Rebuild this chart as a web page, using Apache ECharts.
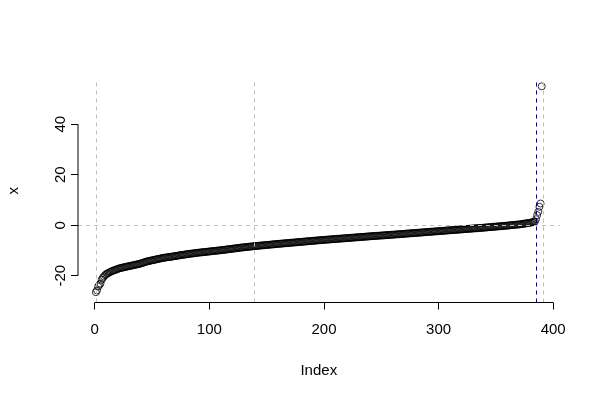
<!DOCTYPE html>
<html>
<head>
<meta charset="utf-8">
<script src="https://cdn.jsdelivr.net/npm/echarts@6/dist/echarts.min.js"></script>
<style>html,body{margin:0;padding:0;background:#fff}#c{width:600px;height:400px}</style>
</head>
<body>
<div id="c"></div>
<script>
// Sorted values x[1..390]
const values = [
-26.5,-25.8,-24.3,-23.6,-23.1,-21.6,-20.9,-20.3,-19.8,-19.4,
-19.1,-18.9,-18.6,-18.4,-18.2,-18.0,-17.8,-17.7,-17.5,-17.3,
-17.2,-17.0,-16.9,-16.8,-16.7,-16.6,-16.5,-16.4,-16.3,-16.2,
-16.1,-16.0,-15.9,-15.8,-15.7,-15.6,-15.5,-15.4,-15.3,-15.2,
-15.0,-14.9,-14.7,-14.6,-14.4,-14.3,-14.2,-14.1,-14.0,-13.9,
-13.8,-13.7,-13.6,-13.5,-13.4,-13.3,-13.2,-13.1,-13.0,-12.9,
-12.85,-12.8,-12.7,-12.65,-12.6,-12.5,-12.45,-12.4,-12.3,-12.25,
-12.2,-12.1,-12.0,-11.9,-11.85,-11.8,-11.7,-11.65,-11.6,-11.5,
-11.45,-11.4,-11.3,-11.25,-11.2,-11.15,-11.1,-11.0,-10.95,-10.9,
-10.85,-10.8,-10.75,-10.7,-10.65,-10.6,-10.55,-10.5,-10.45,-10.4,
-10.35,-10.3,-10.25,-10.2,-10.15,-10.1,-10.05,-10.0,-9.95,-9.9,
-9.85,-9.8,-9.75,-9.7,-9.6,-9.55,-9.5,-9.45,-9.4,-9.3,
-9.25,-9.2,-9.15,-9.1,-9.0,-8.95,-8.9,-8.85,-8.8,-8.75,
-8.7,-8.65,-8.6,-8.55,-8.5,-8.45,-8.4,-8.35,-8.3,-8.25,
-8.21,-8.18,-8.12,-8.09,-8.03,-8.0,-7.95,-7.92,-7.86,-7.83,
-7.78,-7.75,-7.7,-7.65,-7.62,-7.57,-7.52,-7.49,-7.44,-7.4,
-7.37,-7.31,-7.28,-7.24,-7.19,-7.16,-7.12,-7.07,-7.04,-7.0,
-6.95,-6.92,-6.88,-6.83,-6.8,-6.76,-6.71,-6.68,-6.63,-6.6,
-6.56,-6.51,-6.48,-6.44,-6.39,-6.36,-6.31,-6.28,-6.24,-6.2,
-6.15,-6.12,-6.08,-6.03,-6.0,-5.96,-5.91,-5.88,-5.83,-5.8,
-5.77,-5.73,-5.7,-5.66,-5.63,-5.59,-5.56,-5.52,-5.49,-5.45,
-5.42,-5.38,-5.35,-5.31,-5.28,-5.24,-5.21,-5.17,-5.14,-5.1,
-5.07,-5.03,-5.0,-4.96,-4.93,-4.89,-4.86,-4.82,-4.79,-4.75,
-4.72,-4.68,-4.65,-4.61,-4.58,-4.54,-4.51,-4.47,-4.44,-4.4,
-4.37,-4.34,-4.3,-4.27,-4.24,-4.21,-4.17,-4.14,-4.11,-4.08,
-4.04,-4.01,-3.98,-3.95,-3.91,-3.88,-3.85,-3.82,-3.78,-3.75,
-3.72,-3.68,-3.65,-3.61,-3.58,-3.54,-3.51,-3.47,-3.44,-3.4,
-3.37,-3.33,-3.3,-3.26,-3.23,-3.19,-3.16,-3.12,-3.09,-3.05,
-3.02,-2.98,-2.95,-2.91,-2.88,-2.84,-2.81,-2.77,-2.74,-2.7,
-2.67,-2.63,-2.6,-2.56,-2.53,-2.49,-2.46,-2.42,-2.39,-2.35,
-2.32,-2.28,-2.25,-2.21,-2.18,-2.14,-2.11,-2.07,-2.04,-2.0,
-1.97,-1.93,-1.9,-1.86,-1.83,-1.79,-1.76,-1.72,-1.69,-1.65,
-1.62,-1.58,-1.55,-1.51,-1.48,-1.44,-1.41,-1.37,-1.34,-1.3,
-1.27,-1.23,-1.2,-1.16,-1.13,-1.09,-1.06,-1.02,-0.99,-0.95,
-0.91,-0.87,-0.83,-0.79,-0.75,-0.71,-0.67,-0.63,-0.59,-0.55,
-0.51,-0.47,-0.43,-0.39,-0.35,-0.31,-0.27,-0.23,-0.19,-0.15,
-0.1,-0.05,0.0,0.04,0.09,0.13,0.18,0.22,0.26,0.3,
0.36,0.43,0.5,0.57,0.64,0.71,0.78,0.85,0.92,1.0,
1.1,1.2,1.3,1.45,2.4,4.0,5.3,7.3,8.6,55.0
];
const xTicks = [0, 100, 200, 300, 400];
const yTicks = [-20, 0, 20, 40];
const grayVLines = [1, 139, 391];
const navyVLines = [385];
const hLines = [0];

const X_MIN = -14.6, X_MAX = 405.6;
const Y_MIN = -30.6, Y_MAX = 57.9;

const points = values.map((v, i) => [i + 1, v]);
const font = "'Liberation Sans', Arial, sans-serif";
const dashed = (c) => ({ type: [4, 4], color: c, width: 1 });
const axisLineSeries = (data) => ({
  type: 'line', data, clip: false, silent: true, symbol: 'none',
  lineStyle: { color: '#000', width: 1 }, z: 10
});

const chart = echarts.init(document.getElementById('c'), null, { renderer: 'canvas' });
chart.setOption({
  animation: false,
  backgroundColor: '#fff',
  grid: { left: 78, right: 40.4, top: 79, bottom: 97.5, containLabel: false, outerBoundsMode: 'none' },
  xAxis: {
    type: 'value', min: X_MIN, max: X_MAX,
    name: 'Index', nameLocation: 'middle', nameGap: 61,
    nameTextStyle: { fontFamily: font, fontSize: 15, color: '#000' },
    axisLine: { show: false, onZero: false },
    splitLine: { show: false },
    axisTick: { show: true, inside: false, length: 7, customValues: xTicks, lineStyle: { color: '#000' } },
    axisLabel: { customValues: xTicks, margin: 20, fontFamily: font, fontSize: 15, color: '#000' }
  },
  yAxis: {
    type: 'value', min: Y_MIN, max: Y_MAX,
    name: 'x', nameLocation: 'middle', nameGap: 57,
    nameTextStyle: { fontFamily: font, fontSize: 15, color: '#000' },
    axisLine: { show: false, onZero: false },
    splitLine: { show: false },
    axisTick: { show: true, inside: false, length: 7, customValues: yTicks, lineStyle: { color: '#000' } },
    axisLabel: { customValues: yTicks, rotate: 90, margin: 10, fontFamily: font, fontSize: 15, color: '#000' }
  },
  series: [
    {
      type: 'scatter',
      data: points,
      clip: false,
      symbol: 'circle',
      symbolSize: 7,
      itemStyle: { color: 'rgba(0,0,0,0)', borderColor: '#000', borderWidth: 1 },
      silent: true,
      markLine: {
        silent: true, symbol: 'none', label: { show: false },
        data: [
          ...grayVLines.map(v => ({ xAxis: v, lineStyle: dashed('#bebebe') })),
          ...hLines.map(v => ({ yAxis: v, lineStyle: dashed('#bebebe') })),
          ...navyVLines.map(v => ({ xAxis: v, lineStyle: dashed('#000080') }))
        ]
      }
    },
    axisLineSeries([[xTicks[0], Y_MIN], [xTicks[xTicks.length - 1], Y_MIN]]),
    axisLineSeries([[X_MIN, yTicks[0]], [X_MIN, yTicks[yTicks.length - 1]]])
  ]
});
</script>
</body>
</html>
